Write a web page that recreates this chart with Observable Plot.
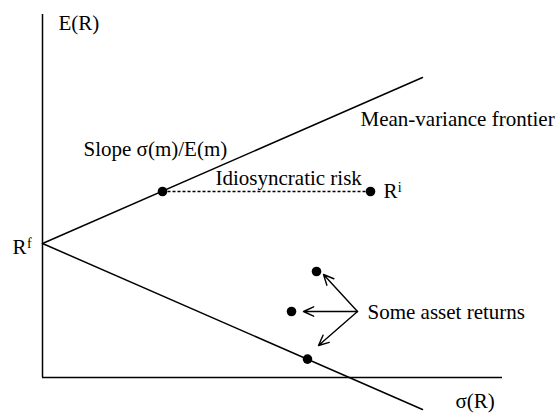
<!DOCTYPE html>
<html>
<head>
<meta charset="utf-8">
<script src="https://cdn.jsdelivr.net/npm/d3@7"></script>
<script src="https://cdn.jsdelivr.net/npm/@observablehq/plot@0.6"></script>
<style>
  html, body { margin: 0; padding: 0; background: white; }
  #chart svg, #chart svg text { font-family: "Times New Roman", Times, Tinos, "Liberation Serif", "DejaVu Serif", serif !important; }
</style>
</head>
<body>
<div id="chart"></div>
<script>
// Data (σ(R) on x, E(R) on y)
const riskFree = 3.35;
const frontierUpper = [{s: 0, e: 3.35}, {s: 9.5, e: 7.5}];
const frontierLower = [{s: 0, e: 3.35}, {s: 9.5, e: -0.8}];
const tangentPoint = [{s: 3.0, e: 4.65}];
const assetRi = [{s: 8.2, e: 4.65}];
const idioSegment = [{s1: 3.0, s2: 8.2, e: 4.65}];
const assetReturns = [
  {s: 6.85, e: 2.65},
  {s: 6.225, e: 1.65},
  {s: 6.625, e: 0.46}
];
const arrowOrigin = {s: 7.875, e: 1.65};
const arrowTargets = [
  {s: 7.025, e: 2.575},
  {s: 6.525, e: 1.65},
  {s: 6.9, e: 0.8}
];
const labels = [
  {text: "E(R)", s: 0.4, e: 8.7},
  {text: "Mean-variance frontier", s: 7.95, e: 6.3},
  {text: "Slope σ(m)/E(m)", s: 1.025, e: 5.55},
  {text: "Idiosyncratic risk", s: 4.325, e: 4.825},
  {text: "R", s: 8.525, e: 4.5},
  {text: "Some asset returns", s: 8.125, e: 1.475},
  {text: "σ(R)", s: 10.325, e: -0.75},
  {text: "R", s: -0.75, e: 3.1}
];
const superscripts = [
  {text: "f", s: -0.39, e: 3.25},
  {text: "i", s: 8.88, e: 4.65}
];

const arrows = arrowTargets.map(t => ({s1: arrowOrigin.s, e1: arrowOrigin.e, s2: t.s, e2: t.e}));
const serif = "Times New Roman, Liberation Serif, DejaVu Serif, serif";

const chart = Plot.plot({
  width: 558,
  height: 413,
  margin: 0,
  style: {background: "white", color: "black"},
  x: {domain: [0, 11.5], range: [42, 502], axis: null},
  y: {domain: [0, 9], range: [377, 17], axis: null},
  marks: [
    Plot.ruleX([0], {y1: 0, y2: 9.075, stroke: "black", strokeWidth: 1.5}),
    Plot.ruleY([0], {x1: 0, x2: 11.5, stroke: "black", strokeWidth: 1.5}),
    Plot.line(frontierUpper, {x: "s", y: "e", stroke: "black", strokeWidth: 1.5}),
    Plot.line(frontierLower, {x: "s", y: "e", stroke: "black", strokeWidth: 1.5}),
    Plot.link(idioSegment, {x1: "s1", x2: "s2", y1: "e", y2: "e", stroke: "black", strokeWidth: 1.3, strokeDasharray: "3,2"}),
    Plot.arrow(arrows, {x1: "s1", y1: "e1", x2: "s2", y2: "e2", stroke: "black", strokeWidth: 1.4, headLength: 12, headAngle: 50}),
    Plot.dot(tangentPoint, {x: "s", y: "e", r: 4.8, fill: "black"}),
    Plot.dot(assetRi, {x: "s", y: "e", r: 4.8, fill: "black"}),
    Plot.dot(assetReturns, {x: "s", y: "e", r: 4.8, fill: "black"}),
    Plot.text(labels, {x: "s", y: "e", text: "text", textAnchor: "start", lineAnchor: "bottom", fontSize: 21, fontFamily: serif, fill: "black"}),
    Plot.text(superscripts, {x: "s", y: "e", text: "text", textAnchor: "start", lineAnchor: "bottom", fontSize: 14, fontFamily: serif, fill: "black"})
  ]
});
document.getElementById("chart").appendChild(chart);
</script>
</body>
</html>
